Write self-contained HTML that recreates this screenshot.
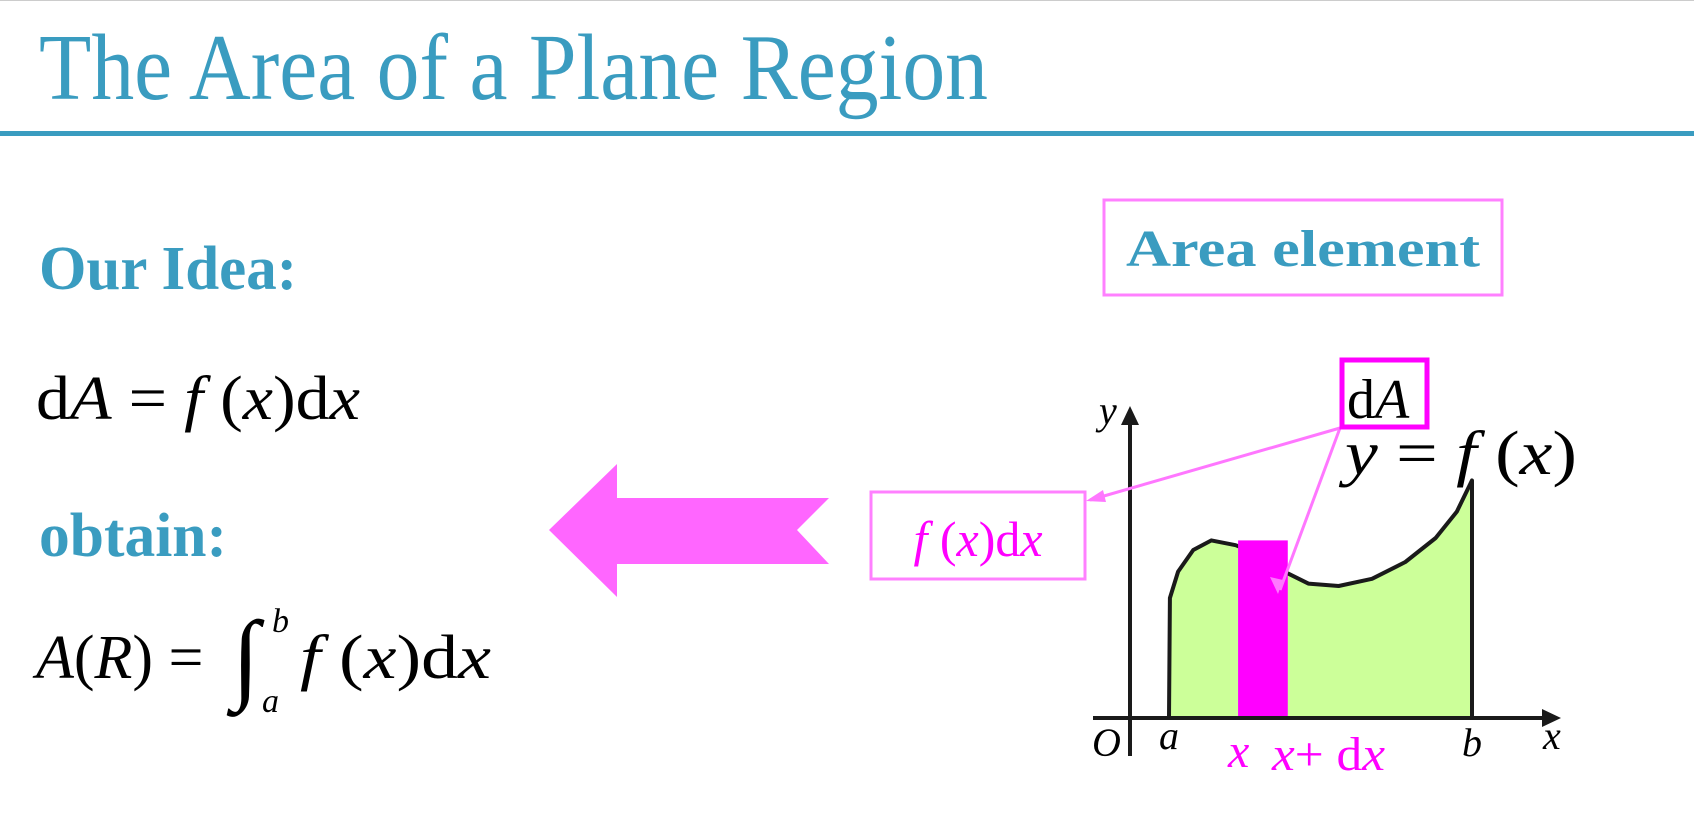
<!DOCTYPE html>
<html><head><meta charset="utf-8"><style>
html,body{margin:0;padding:0;background:#fff;width:1694px;height:839px;overflow:hidden}
svg{display:block;font-family:"Liberation Serif",serif}
</style></head><body>
<svg width="1694" height="839" viewBox="0 0 1694 839">
<line x1="0" y1="0.5" x2="1694" y2="0.5" stroke="#ccc" stroke-width="1"/>
<text x="39" y="99" font-size="94" fill="#3a9cc0" textLength="949" lengthAdjust="spacingAndGlyphs">The Area of a Plane Region</text>
<rect x="0" y="131" width="1694" height="5" fill="#3a9cc0"/>
<text x="39" y="289" font-size="62" font-weight="bold" fill="#3a9cc0" textLength="258" lengthAdjust="spacingAndGlyphs">Our Idea:</text>
<text x="36" y="419" font-size="62" fill="#000" textLength="324" lengthAdjust="spacingAndGlyphs">d<tspan font-style="italic">A</tspan> = <tspan font-style="italic">f</tspan> (<tspan font-style="italic">x</tspan>)d<tspan font-style="italic">x</tspan></text>
<text x="39" y="556" font-size="62" font-weight="bold" fill="#3a9cc0" textLength="188" lengthAdjust="spacingAndGlyphs">obtain:</text>
<text x="36" y="678" font-size="62" fill="#000"><tspan font-style="italic">A</tspan>(<tspan font-style="italic">R</tspan>) = </text>
<text x="232" y="690" font-size="100" fill="#000">∫</text>
<text x="272" y="632" font-size="34" font-style="italic" fill="#000">b</text>
<text x="262" y="712" font-size="34" font-style="italic" fill="#000">a</text>
<text x="300" y="678" font-size="62" fill="#000" textLength="191" lengthAdjust="spacingAndGlyphs"><tspan font-style="italic">f</tspan> (<tspan font-style="italic">x</tspan>)d<tspan font-style="italic">x</tspan></text>
<polygon points="549,530 617,464 617,498 829,498 797,530 829,564 617,564 617,597" fill="#ff66ff"/>
<rect x="871" y="492" width="214" height="87" fill="none" stroke="#ff80ff" stroke-width="3"/>
<text x="978" y="556" font-size="50" fill="#ff00ff" text-anchor="middle"><tspan font-style="italic">f</tspan> (<tspan font-style="italic">x</tspan>)d<tspan font-style="italic">x</tspan></text>
<rect x="1104" y="200" width="398" height="95" fill="none" stroke="#ff80ff" stroke-width="3"/>
<text x="1126" y="266" font-size="52" font-weight="bold" fill="#3a9cc0" textLength="354" lengthAdjust="spacingAndGlyphs">Area element</text>
<g id="graph"></g>
<text x="1345" y="474" font-size="62" fill="#000" textLength="232" lengthAdjust="spacingAndGlyphs"><tspan font-style="italic">y</tspan> = <tspan font-style="italic">f</tspan> (<tspan font-style="italic">x</tspan>)</text>
<text x="1347" y="418" font-size="56" fill="#000">d<tspan font-style="italic">A</tspan></text>
<text x="1272" y="770" font-size="48" fill="#ff00ff" textLength="113" lengthAdjust="spacingAndGlyphs"><tspan font-style="italic">x</tspan>+ d<tspan font-style="italic">x</tspan></text>
</svg>
<script>
const curveX=[0.00,0.003,0.03,0.08,0.14,0.22,0.30,0.38,0.46,0.56,0.67,0.78,0.88,0.95,1.00];
const curveY=[0.00,0.50,0.61,0.70,0.74,0.72,0.68,0.61,0.56,0.55,0.58,0.65,0.75,0.86,0.99];
const stripX=[0.228,0.392];
const stripTop=0.74;
const X0=1169,X1=1472,Y0=718,YH=240;
const sx=v=>X0+v*(X1-X0), sy=v=>Y0-v*YH;
const NS='http://www.w3.org/2000/svg';
const g=document.getElementById('graph');
function mk(t,a,txt){const e=document.createElementNS(NS,t);for(const k in a)e.setAttribute(k,a[k]);if(txt!=null)e.textContent=txt;g.appendChild(e);return e;}
let d='M'+sx(0)+','+sy(0);
for(let i=0;i<curveX.length;i++)d+=' L'+sx(curveX[i])+','+sy(curveY[i]);
d+=' L'+sx(1)+','+sy(0)+' Z';
const area=mk('path',{d:d,fill:'#ccff99',stroke:'#1a1a1a','stroke-width':4,'stroke-linejoin':'round'});


const strip=mk('rect',{x:sx(stripX[0]),y:sy(stripTop),width:sx(stripX[1])-sx(stripX[0]),height:sy(0)-sy(stripTop),fill:'#ff00ff'});


const ax=mk('path',{d:'M1093,718 L1548,718 M1130,756 L1130,420',stroke:'#1a1a1a','stroke-width':4,fill:'none'});


const ah=mk('path',{d:'M1561,718 L1542,709 L1542,727 Z M1130,406 L1121,425 L1139,425 Z',fill:'#1a1a1a'});


const pl=mk('path',{d:'M1340,428 L1090,500 M1340,428 L1280,590',stroke:'#ff77ff','stroke-width':3,fill:'none'});


const ph=mk('path',{d:'M1086,501 L1103,490 L1106,502 Z M1278,594 L1270,577 L1283,580 Z',fill:'#ff77ff'});


const db=mk('rect',{x:1342,y:360,width:85,height:67,fill:'none',stroke:'#ff00ff','stroke-width':5});


const labels=[['O',1092,756,40,'#000','origin-label'],['a',1159,749,40,'#000','a-label'],['b',1462,756,40,'#000','b-label'],['x',1543,749,40,'#000','x-axis-label'],['y',1099,424,40,'#000','y-axis-label'],['x',1228,767,48,'#ff00ff','x-label']];
for(const L of labels){
 const t=mk('text',{x:L[1],y:L[2],'font-size':L[3],fill:L[4],'font-style':'italic'},L[0]);
 
 
}
</script>
</body></html>
